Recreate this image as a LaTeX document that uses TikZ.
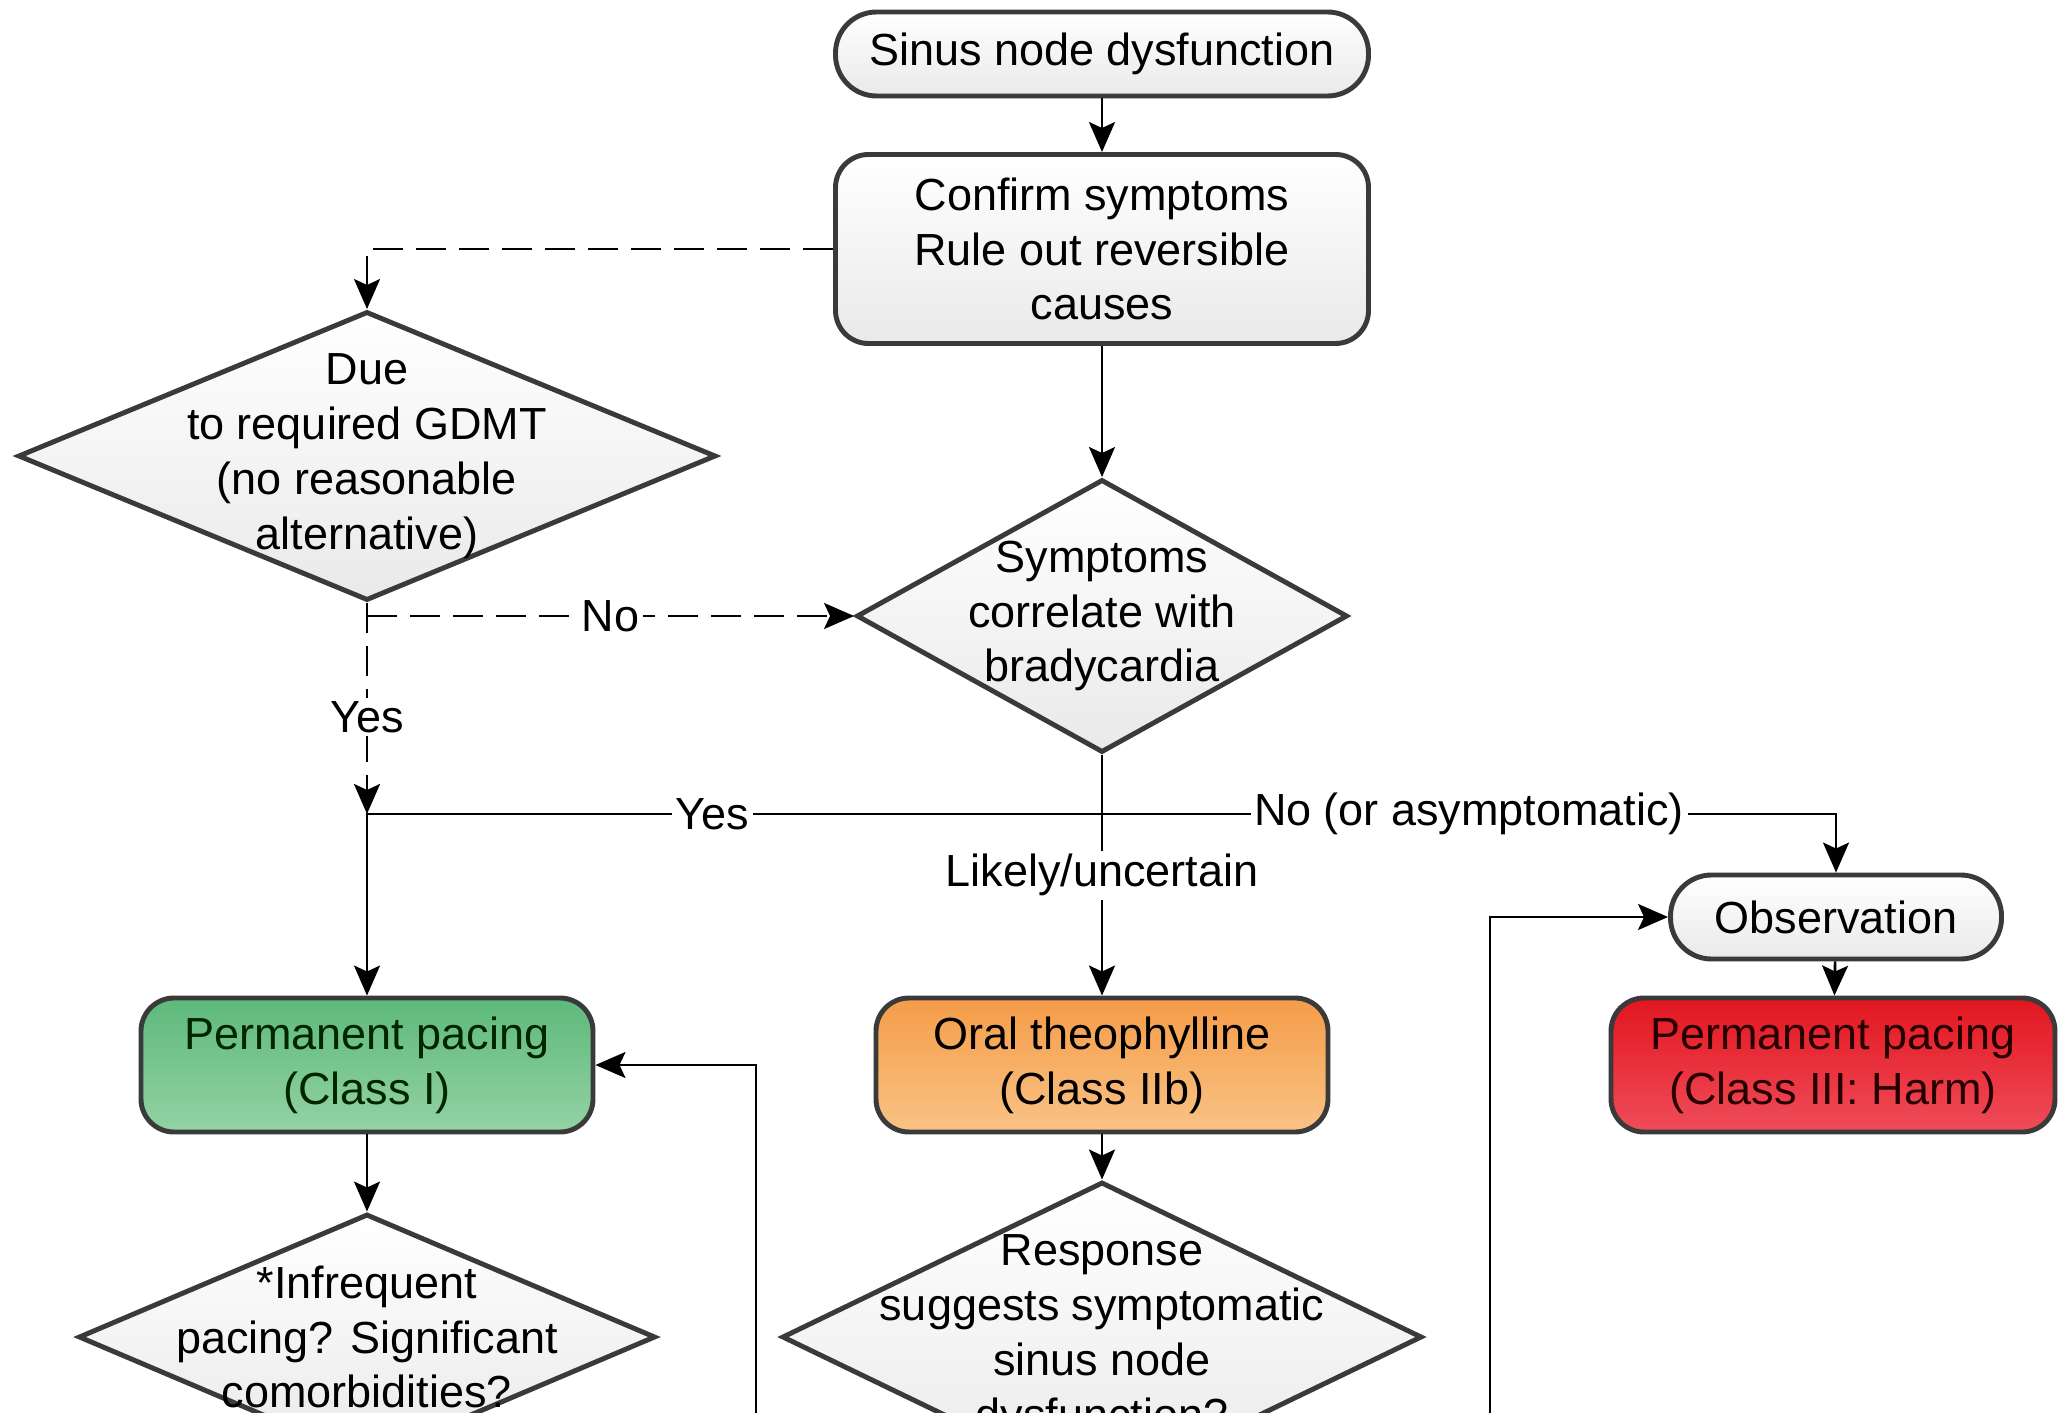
\documentclass[tikz,border=0pt]{standalone}
\usepackage{fontspec}
\setmainfont{Liberation Sans}
\usetikzlibrary{arrows.meta,shapes.geometric}

\definecolor{edge}{HTML}{3A3A3A}
\definecolor{greentop}{HTML}{5DB97B}
\definecolor{greenbot}{HTML}{94D2A4}
\definecolor{orangetop}{HTML}{F59C48}
\definecolor{orangebot}{HTML}{F9C385}
\definecolor{redtop}{HTML}{E2161F}
\definecolor{redbot}{HTML}{EF4C5A}

\tikzset{
	every node/.style={font=\fontsize{12.8}{15.6}\selectfont},
	box/.style={draw=edge, line width=1.4pt, align=center, inner sep=0pt, top color=white, bottom color=gray!17},
	terminal/.style={box, rounded corners=0.41cm, minimum height=0.84cm},
	process/.style={box, rounded corners=0.33cm, minimum width=4.52cm, minimum height=1.34cm},
	decision/.style={box, diamond},
	txt/.style={align=center},
	arrow/.style={-{Stealth[length=0.3cm,width=0.26cm,inset=0.06cm]}, line width=0.75pt},
	dashedarrow/.style={arrow, dash pattern=on 0.3cm off 0.13cm},
	lbl/.style={fill=white, inner sep=1pt},
}

\begin{document}
\begin{tikzpicture}
	\useasboundingbox (0,0) rectangle (20.59,-14.12);
	\clip (0,0) rectangle (20.59,-14.12);

	% first steps
	\node (sinus) [terminal, minimum width=5.33cm] at (11.02,-0.54) {Sinus node dysfunction};
	\node (confirm) [process, minimum width=5.33cm, minimum height=1.89cm] at (11.02,-2.49) {Confirm symptoms\\Rule out reversible\\causes};

	% questions
	\node (due) [decision, minimum width=6.98cm, minimum height=2.89cm, label={[txt]center:Due\\to required GDMT\\(no reasonable\\alternative)}] at (3.67,-4.56) {};
	\node (symp) [decision, minimum width=4.91cm, minimum height=2.73cm, label={[txt]center:Symptoms\\correlate with\\bradycardia}] at (11.02,-6.16) {};

	% outcomes
	\node (obs) [terminal, minimum width=3.31cm] at (18.36,-9.17) {Observation};
	\node (pace1) [process, top color=greentop, bottom color=greenbot, text=black!85!green] at (3.67,-10.65) {Permanent pacing\\(Class I)};
	\node (theo) [process, top color=orangetop, bottom color=orangebot] at (11.02,-10.65) {Oral theophylline\\(Class IIb)};
	\node (pace3) [process, minimum width=4.44cm, top color=redtop, bottom color=redbot, text=black!85!red] at (18.33,-10.65) {Permanent pacing\\(Class III: Harm)};

	% follow-up questions
	\node (infreq) [decision, minimum width=5.77cm, minimum height=2.46cm, label={[txt]center:*Infrequent\\pacing? Significant\\comorbidities?}] at (3.67,-13.37) {};
	\node (resp) [decision, minimum width=6.40cm, minimum height=3.10cm, label={[txt]center:Response\\suggests symptomatic\\sinus node\\dysfunction?}] at (11.02,-13.37) {};

	\coordinate (nostart) at (3.67,-6.16);
	\coordinate (yesjoin) at (3.67,-8.14);
	\coordinate (nojoin) at (18.36,-8.14);
	\coordinate (loopa) at (7.56,-14.3);
	\coordinate (loopb) at (14.90,-14.3);

	% connectors
	\draw [arrow] (sinus) -- (confirm);
	\draw [arrow] (confirm) -- (symp);
	\draw [dashedarrow] (confirm.west) -| (due.north);
	\draw [dashedarrow] (due.south) -- node[lbl, pos=0.54] {Yes} (yesjoin);
	\draw [dashedarrow] (nostart) -- node[lbl] {No} (symp.west);
	\draw [arrow] (symp) -- node[lbl] {Likely/uncertain} (theo);
	\draw [arrow] (symp.south |- yesjoin) -- node[lbl, pos=0.53] {Yes} (yesjoin) -- (pace1);
	\draw [arrow] (symp.south |- yesjoin) -- node[lbl] {No (or asymptomatic)} (nojoin) -- (obs);
	\draw [arrow] (obs) -- (pace3);
	\draw [arrow] (theo) -- (resp);
	\draw [arrow] (pace1) -- (infreq);
	\draw [arrow] (loopa) |- (pace1.east);
	\draw [arrow] (loopb) |- (obs.west);
\end{tikzpicture}
\end{document}
